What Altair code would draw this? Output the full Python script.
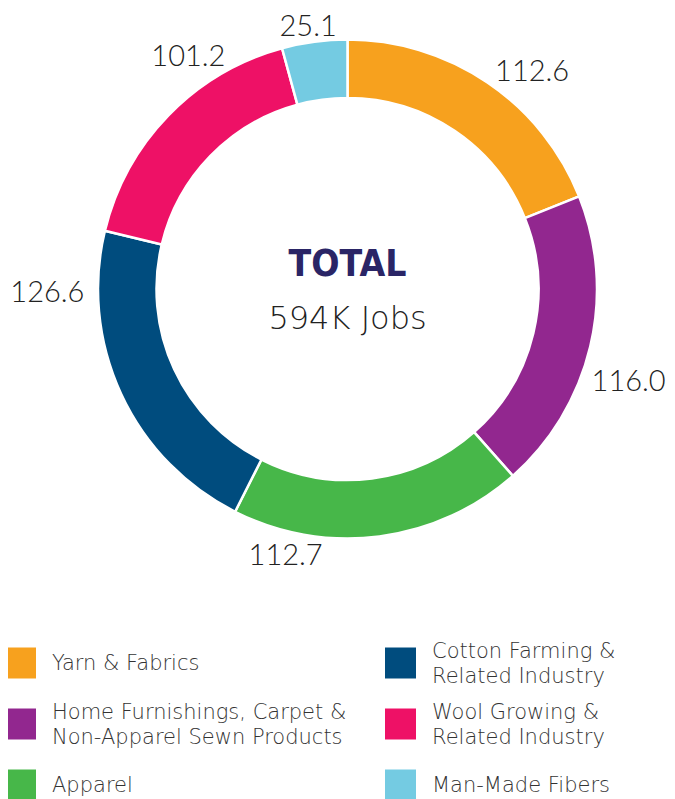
import altair as alt
import pandas as pd

# ---- data ----
categories = [
    "Yarn & Fabrics",
    "Home Furnishings, Carpet & Non-Apparel Sewn Products",
    "Apparel",
    "Cotton Farming & Related Industry",
    "Wool Growing & Related Industry",
    "Man-Made Fibers",
]
jobs_k = [112.6, 116.0, 112.7, 126.6, 101.2, 25.1]
value_labels = ["112.6", "116.0", "112.7", "126.6", "101.2", "25.1"]
legend_labels = [
    "Yarn & Fabrics",
    "Home Furnishings, Carpet &\nNon-Apparel Sewn Products",
    "Apparel",
    "Cotton Farming &\nRelated Industry",
    "Wool Growing &\nRelated Industry",
    "Man-Made Fibers",
]
colors = ["#F7A11E", "#92278F", "#47B749", "#004C7E", "#EE1166", "#74CBE2"]
center_title = "TOTAL"
center_sub = "594K Jobs"

# ---- layout / style ----
W, H = 659, 791
CX, CY = 339.5, 281
R_OUT, R_IN = 249.5, 191
LABEL_R = 290
LABEL_NUDGE = [(22, 23), (-1, 26), (-99, -21), (-37, -118), (49, -30), (-1, 25)]
NUM_FONT = "Lato"
TXT_FONT = "'DejaVu Sans', sans-serif"
TITLE_FONT = "'Liberation Sans Narrow', 'DejaVu Sans Condensed', 'Roboto Condensed', sans-serif"

df = pd.DataFrame({
    "category": categories,
    "jobs": jobs_k,
    "label": value_labels,
    "legend": legend_labels,
    "order": list(range(len(categories))),
})
total = float(sum(jobs_k))

color_enc = alt.Color("category:N", scale=alt.Scale(domain=categories, range=colors), legend=None)
theta_scale = alt.Scale(domain=[0, total])

base = alt.Chart(df)

arcs = base.mark_arc(
    innerRadius=R_IN, outerRadius=R_OUT, stroke="white", strokeWidth=2.5, x=CX, y=CY
).encode(
    theta=alt.Theta("jobs:Q", stack=True, scale=theta_scale),
    order=alt.Order("order:Q"),
    color=color_enc,
)

lab_base = base.transform_window(
    cum="sum(jobs)", sort=[alt.SortField("order")], frame=[None, 0]
).transform_calculate(mid="datum.cum - datum.jobs / 2")

label_layers = []
for i, cat in enumerate(categories):
    ndx, ndy = LABEL_NUDGE[i]
    label_layers.append(
        lab_base.transform_filter(alt.datum.category == cat).mark_text(
            radius=LABEL_R, x=CX, y=CY, dx=ndx, dy=ndy, font=NUM_FONT, fontWeight=300,
            fontSize=29, color="#222222", align="center", baseline="middle",
        ).encode(
            theta=alt.Theta("mid:Q", stack=None, scale=theta_scale),
            text="label:N",
        )
    )

title_df = pd.DataFrame({"t": [center_title]})
sub_df = pd.DataFrame({"t": [center_sub]})
title_txt = alt.Chart(title_df).mark_text(
    x=CX, y=CY - 24, font=TITLE_FONT, fontWeight="bold", fontSize=37,
    color="#2A2566", align="center", baseline="middle",
).encode(text="t:N")
sub_txt = alt.Chart(sub_df).mark_text(
    x=CX, y=CY + 30, font=TXT_FONT, fontWeight=300, fontSize=32,
    color="#222222", align="center", baseline="middle",
).encode(text="t:N")

leg = base.transform_calculate(
    col="floor(datum.order / 3)", row="datum.order % 3",
    multi="indexof(datum.legend, '\\n') >= 0",
)
xs = alt.X("col:Q", scale=alt.Scale(domain=[0, 1], range=[12.5, 392.5], nice=False, zero=False), axis=None)
ys = alt.Y("row:Q", scale=alt.Scale(domain=[0, 2], range=[655, 777], nice=False, zero=False), axis=None)

leg_sq = leg.mark_square(size=961, opacity=1, filled=True).encode(x=xs, y=ys, color=color_enc)
leg_style = dict(
    dx=31.5, align="left", baseline="middle", lineBreak="\n", lineHeight=25,
    font=TXT_FONT, fontWeight=300, fontSize=21, color="#333333",
)
leg_txt_single = leg.transform_filter("!datum.multi").mark_text(dy=1, **leg_style).encode(
    x=xs, y=ys, text="legend:N")
leg_txt_multi = leg.transform_filter("datum.multi").mark_text(dy=-11.5, **leg_style).encode(
    x=xs, y=ys, text="legend:N")

chart = alt.layer(
    arcs, *label_layers, title_txt, sub_txt, leg_sq, leg_txt_single, leg_txt_multi
).properties(
    width=W, height=H, autosize="none", padding=0, background="white"
).configure_view(stroke=None)

chart.save("out.html", embed_options={"renderer": "svg", "actions": False})
